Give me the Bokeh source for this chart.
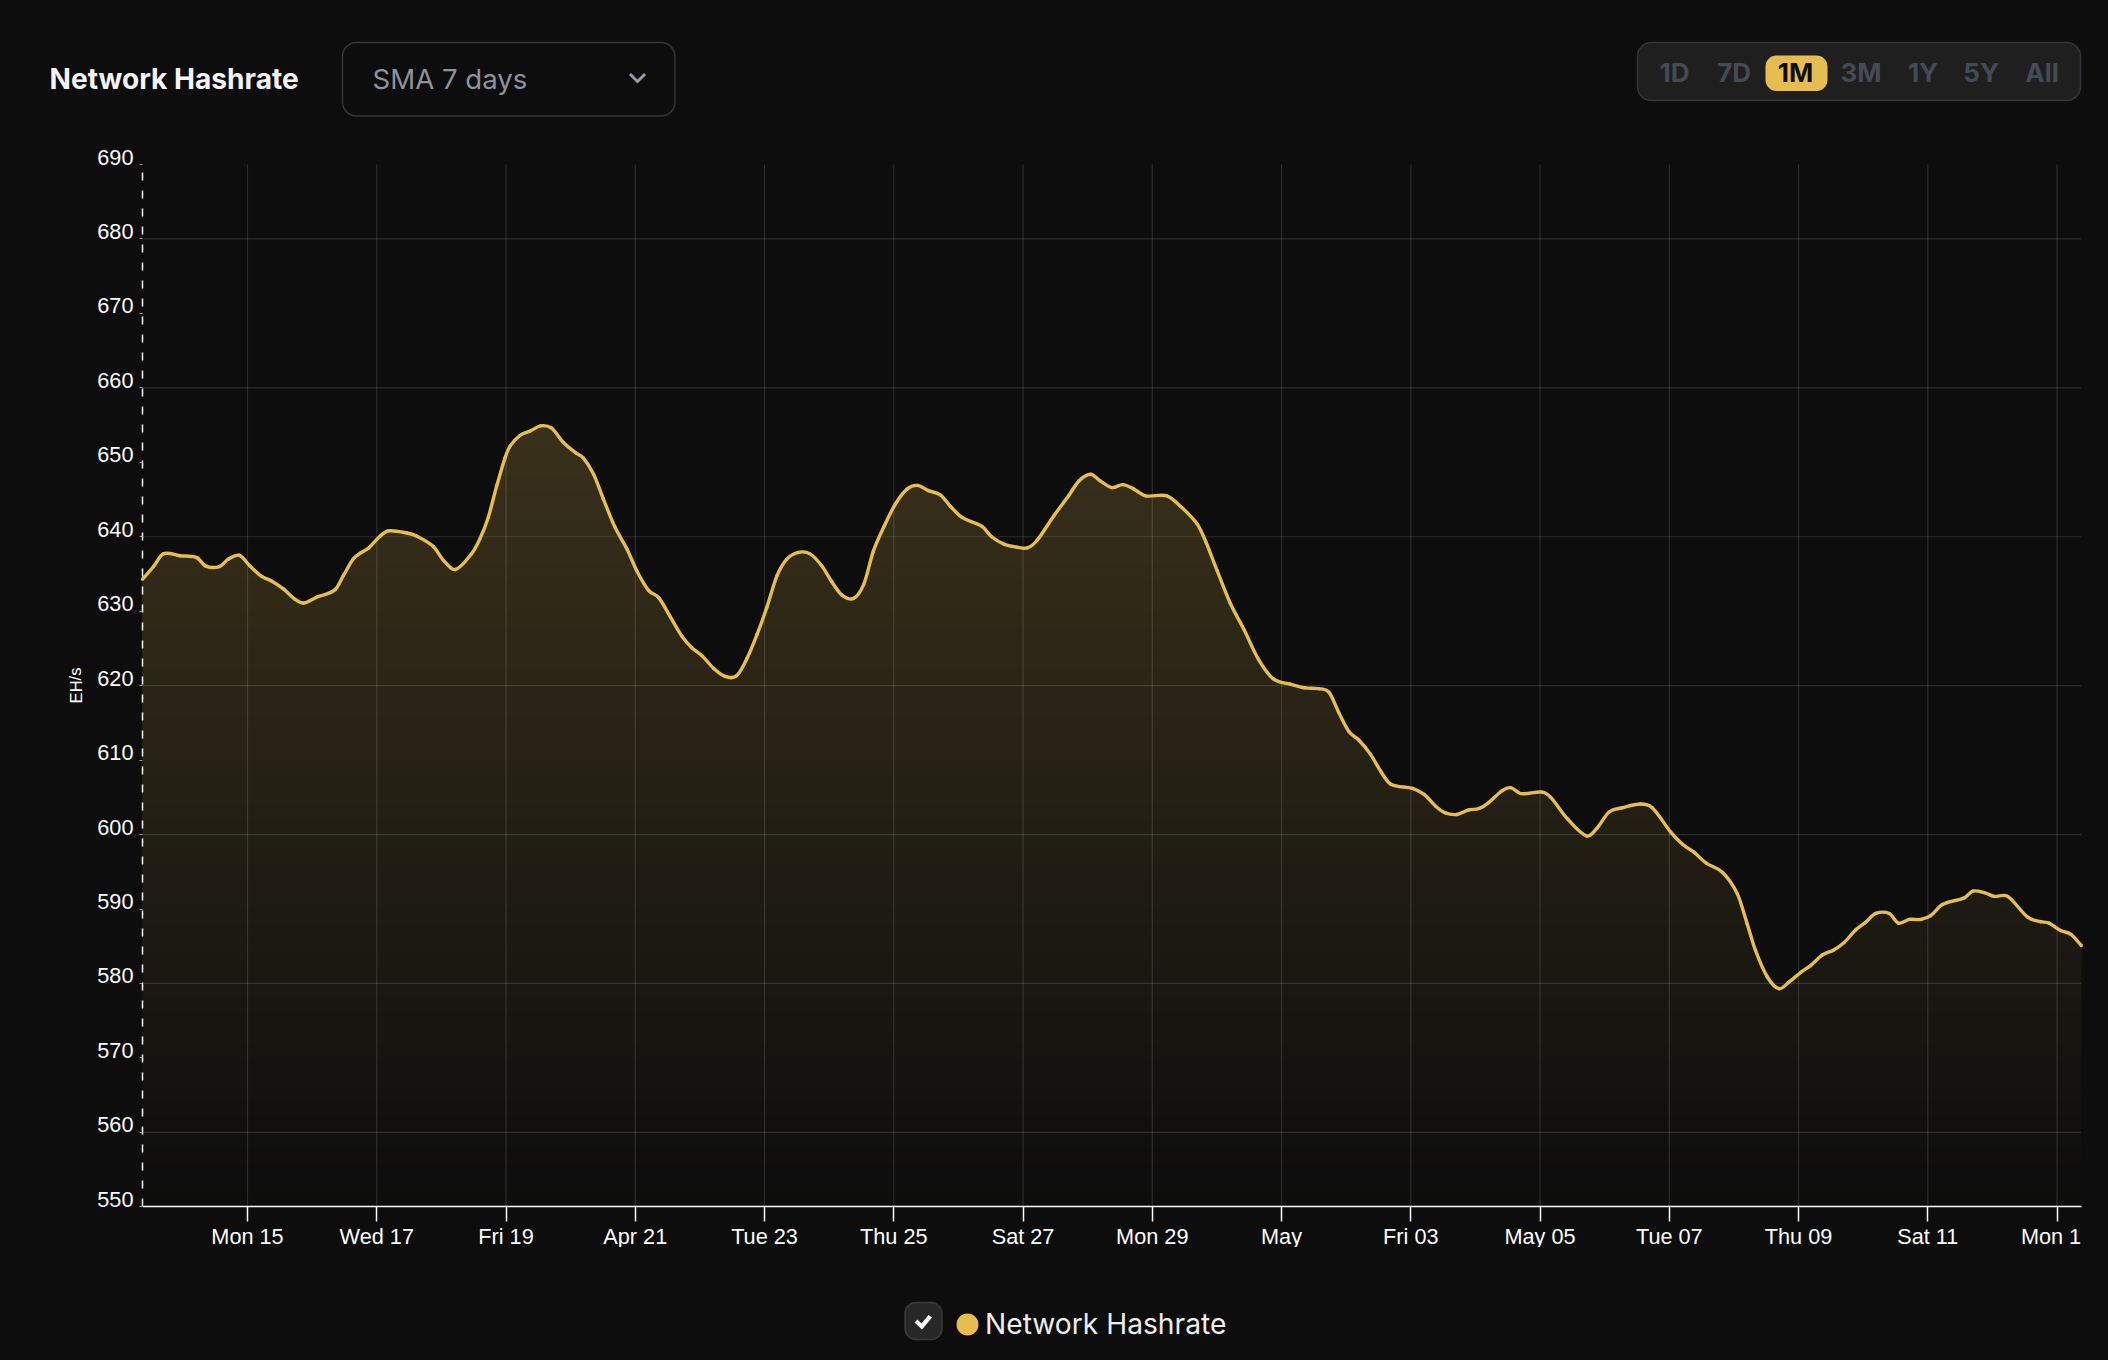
from datetime import datetime, timedelta
from bokeh.plotting import figure
from bokeh.embed import file_html
from bokeh.resources import INLINE
from bokeh.models import (BoxAnnotation, CustomLabelingPolicy, FixedTicker, Label, LinearAxis, PolyAnnotation, Range1d)

TITLE = "Network Hashrate"
SMOOTHING = "SMA 7 days"
UNIT = "EH/s"
RANGE_BUTTONS = ["1D", "7D", "1M", "3M", "1Y", "5Y", "All"]
ACTIVE_BUTTON = "1M"
Y_TICKS = [550, 560, 570, 580, 590, 600, 610, 620, 630, 640, 650, 660, 670, 680, 690]
Y_GRID = [560, 580, 600, 620, 640, 660, 680]
X_TICK_DATES = ["2024-04-15", "2024-04-17", "2024-04-19", "2024-04-21", "2024-04-23", "2024-04-25", "2024-04-27",
                "2024-04-29", "2024-05-01", "2024-05-03", "2024-05-05", "2024-05-07", "2024-05-09", "2024-05-11",
                "2024-05-13"]
X_TICK_LABELS = ["Mon 15", "Wed 17", "Fri 19", "Apr 21", "Tue 23", "Thu 25", "Sat 27", "Mon 29", "May", "Fri 03",
                 "May 05", "Tue 07", "Thu 09", "Sat 11", "Mon 1\u00a0\u00a0"]

# days since the start of the window (13 Apr 2024, 09:00) and EH/s
DAYS = [0.00, 0.17, 0.32, 0.58, 0.84, 0.98, 1.19, 1.33, 1.50, 1.66, 1.84, 1.99, 2.18, 2.36, 2.49, 2.70, 2.98, 3.11,
        3.26, 3.37, 3.50, 3.68, 3.81, 4.09, 4.24, 4.50, 4.66, 4.84, 5.09, 5.22, 5.35, 5.48, 5.61, 5.69, 5.84, 6.00,
        6.16, 6.33, 6.51, 6.70, 6.82, 6.98, 7.13, 7.31, 7.50, 7.65, 7.83, 7.99, 8.17, 8.35, 8.50, 8.66, 8.84, 9.00,
        9.19, 9.35, 9.51, 9.66, 9.82, 9.97, 10.15, 10.33, 10.51, 10.67, 10.82, 11.00, 11.16, 11.31, 11.47, 11.65,
        11.83, 11.99, 12.16, 12.35, 12.50, 12.68, 12.99, 13.14, 13.33, 13.53, 13.69, 13.84, 14.10, 14.33, 14.49,
        14.67, 14.82, 15.00, 15.17, 15.34, 15.52, 15.85, 16.06, 16.32, 16.45, 16.63, 16.83, 17.04, 17.27, 17.50,
        17.76, 17.99, 18.20, 18.36, 18.51, 18.67, 18.82, 19.00, 19.16, 19.31, 19.65, 19.83, 20.01, 20.16, 20.34,
        20.52, 20.68, 20.83, 21.04, 21.17, 21.33, 21.66, 21.79, 22.05, 22.35, 22.51, 22.69, 22.90, 23.18, 23.36,
        23.65, 23.83, 24.01, 24.19, 24.45, 24.68, 24.83, 24.96, 25.14, 25.32, 25.48, 25.66, 25.81, 25.99, 26.17,
        26.33, 26.51, 26.66, 26.82, 27.03, 27.17, 27.34, 27.52, 27.67, 27.85, 28.19, 28.32, 28.50, 28.65, 28.86,
        29.17, 29.37, 29.50, 29.68, 29.84, 30.00]
HASHRATE = [634.3, 636.0, 637.7, 637.45, 637.2, 636.06, 636.0, 637.0, 637.5, 636.1, 634.7, 634.1, 633.0, 631.6, 631.1,
            631.9, 632.9, 634.8, 637.0, 637.8, 638.5, 640.1, 640.8, 640.5, 640.1, 638.7, 636.8, 635.6, 637.7, 639.7,
            642.6, 646.8, 650.6, 652.2, 653.6, 654.2, 654.9, 654.6, 652.7, 651.3, 650.6, 648.4, 645.1, 641.3, 638.3,
            635.4, 632.8, 631.8, 629.2, 626.6, 625.1, 624.0, 622.3, 621.3, 621.3, 623.6, 626.9, 630.5, 634.8, 637.0,
            637.9, 637.7, 636.1, 633.9, 632.2, 631.7, 633.6, 638.1, 641.3, 644.4, 646.4, 646.9, 646.2, 645.6, 644.1,
            642.6, 641.4, 640.0, 639.0, 638.6, 638.5, 639.5, 642.8, 645.5, 647.5, 648.4, 647.5, 646.6, 647.0, 646.4,
            645.5, 645.5, 644.1, 641.7, 639.4, 635.4, 631.1, 627.6, 623.5, 620.9, 620.2, 619.7, 619.6, 619.1, 616.4,
            613.8, 612.7, 610.8, 608.5, 606.8, 606.2, 605.4, 603.8, 602.9, 602.7, 603.3, 603.5, 604.3, 605.9, 606.3,
            605.5, 605.7, 605.0, 602.1, 599.8, 600.9, 603.0, 603.6, 604.1, 603.6, 600.3, 598.7, 597.6, 596.2, 594.9,
            592.0, 588.0, 584.4, 580.9, 579.3, 580.2, 581.5, 582.4, 583.8, 584.5, 585.5, 587.2, 588.2, 589.4, 589.4,
            588.1, 588.6, 588.6, 589.1, 590.6, 591.5, 592.4, 592.2, 591.7, 591.7, 588.9, 588.3, 588.1, 587.1, 586.6,
            585.1]

BG = "#0d0d0d"
GOLD = "#E6BD50"
START = datetime(2024, 4, 13, 9)
CANVAS_W, CANVAS_H = 2104, 1356
PLOT_LEFT, PLOT_RIGHT, PLOT_BOTTOM = 142.0, 2080.8, 1206.3
PX_PER_UNIT = 7.445


def to_ms(dt):
    return (dt - datetime(1970, 1, 1)).total_seconds() * 1000.0


xs = [to_ms(START + timedelta(days=d)) for d in DAYS]
tick_ms = [to_ms(datetime.strptime(d, "%Y-%m-%d")) for d in X_TICK_DATES]
x_start, x_end = to_ms(START), to_ms(START + timedelta(days=30))

# the frame fills the whole canvas, so that header and legend are drawn in it too;
# the ranges run past the plot area so that the axes land where they belong
ms_per_px = (x_end - x_start) / (PLOT_RIGHT - PLOT_LEFT)
x_range = Range1d(x_start - PLOT_LEFT * ms_per_px, x_end + (CANVAS_W - PLOT_RIGHT) * ms_per_px)
y_low = 550 - (CANVAS_H - PLOT_BOTTOM) / PX_PER_UNIT
y_high = 550 + PLOT_BOTTOM / PX_PER_UNIT

p = figure(width=CANVAS_W, height=CANVAS_H, output_backend="svg", toolbar_location=None,
           x_axis_location=None, y_axis_location=None, x_range=x_range, y_range=Range1d(y_low, y_high),
           background_fill_color=BG, border_fill_color=BG, outline_line_color=None, min_border=0)
p.grid.visible = False

# vertical gradient under the curve: opaque layers painted bottom-up
top_value = max(HASHRATE)
alpha_top = 0.205
level = 550.0
n = len(xs)
while level < top_value:
    a = alpha_top * (level - 550) / (top_value - 550)
    color = "#%02x%02x%02x" % tuple(int(round(13 + a * (c - 13))) for c in (0xE6, 0xBD, 0x50))
    lx, ly = [], []
    for i in range(n):
        lx.append(xs[i])
        ly.append(max(HASHRATE[i], level))
        if i < n - 1 and (HASHRATE[i] - level) * (HASHRATE[i + 1] - level) < 0:
            t = (level - HASHRATE[i]) / (HASHRATE[i + 1] - HASHRATE[i])
            lx.append(xs[i] + t * (xs[i + 1] - xs[i]))
            ly.append(level)
    p.varea(lx, [level] * len(lx), ly, fill_color=color, fill_alpha=1)
    level += 2.0

# grid
p.segment(x0=tick_ms, x1=tick_ms, y0=[550] * len(tick_ms), y1=[690] * len(tick_ms),
          line_color="#ffffff", line_alpha=0.13, line_width=1.2)
p.segment(x0=[x_start] * len(Y_GRID), x1=[x_end] * len(Y_GRID), y0=Y_GRID, y1=Y_GRID,
          line_color="#ffffff", line_alpha=0.13, line_width=1.2)

# the curve: same points, drawn as a smooth spline through them like the original
slopes = [(HASHRATE[min(i + 1, n - 1)] - HASHRATE[max(i - 1, 0)]) / (xs[min(i + 1, n - 1)] - xs[max(i - 1, 0)])
          for i in range(n)]
steps = [xs[i + 1] - xs[i] for i in range(n - 1)]
p.bezier(x0=xs[:-1], y0=HASHRATE[:-1], x1=xs[1:], y1=HASHRATE[1:],
         cx0=[xs[i] + steps[i] / 3 for i in range(n - 1)],
         cy0=[HASHRATE[i] + slopes[i] * steps[i] / 3 for i in range(n - 1)],
         cx1=[xs[i + 1] - steps[i] / 3 for i in range(n - 1)],
         cy1=[HASHRATE[i + 1] - slopes[i + 1] * steps[i] / 3 for i in range(n - 1)],
         line_color=GOLD, line_width=3.4, line_cap="round")

# x axis
ax = LinearAxis(fixed_location=550, bounds=(x_start, x_end), ticker=FixedTicker(ticks=tick_ms),
                major_label_overrides=dict(zip(tick_ms, X_TICK_LABELS)),
                axis_line_color="#ffffff", axis_line_width=1.5,
                major_tick_line_color="#ffffff", major_tick_line_width=1.5, major_tick_in=0, major_tick_out=15,
                minor_tick_line_color=None, major_label_standoff=2, major_label_text_font="Liberation Sans",
                major_label_text_font_size="21.7px", major_label_text_color="#ffffff")
p.add_layout(ax, "below")

# y labels sit just above their grid lines: axis on a range shifted by one unit
label_offset = 7.5 / PX_PER_UNIT
p.extra_y_ranges = {"labels": Range1d(y_low - label_offset, y_high - label_offset)}
al = LinearAxis(fixed_location=x_start, y_range_name="labels", ticker=FixedTicker(ticks=Y_TICKS),
                axis_line_color=None, major_tick_line_color=None, minor_tick_line_color=None,
                major_tick_in=0, major_tick_out=0, major_label_standoff=9,
                major_label_text_font="Liberation Sans", major_label_text_font_size="21.7px",
                major_label_text_color="#ffffff")
p.add_layout(al, "left")

# y axis: dashed line and small ticks at the values, no labels of its own
ay = LinearAxis(fixed_location=x_start, bounds=(550, 690), ticker=FixedTicker(ticks=Y_TICKS),
                axis_line_color="#ffffff", axis_line_width=1.5, axis_line_dash=[8, 10],
                major_tick_line_color="#9a9a9a", major_tick_in=0, major_tick_out=3,
                minor_tick_line_color=None,
                major_label_policy=CustomLabelingPolicy(code="for (const i of indices) indices.unset(i); return indices"))
p.add_layout(ay, "left")


# --- page furniture, positions given in page pixels
def box(l, t, r, b, fill, line=None, radius=0, lw=1.5):
    p.add_layout(BoxAnnotation(left=l, right=r, top=t, bottom=b,
                               left_units="canvas", right_units="canvas", top_units="canvas", bottom_units="canvas",
                               fill_color=fill, fill_alpha=1, line_color=line, line_alpha=1 if line else 0,
                               line_width=lw, border_radius=radius))


def text(x, y, s, font="Inter", size=29, color="#ffffff", style="normal", align="left", angle=0.0):
    p.add_layout(Label(x=x, y=y, x_units="canvas", y_units="canvas", text=s, text_font=font,
                       text_font_size=f"{size}px", text_color=color, text_font_style=style, text_align=align,
                       text_baseline="middle", angle=angle))


def poly(points, fill):
    p.add_layout(PolyAnnotation(xs=[a for a, _ in points], ys=[b for _, b in points],
                                xs_units="canvas", ys_units="canvas", fill_color=fill, fill_alpha=1,
                                line_alpha=0))


# cover that clips the descenders of the x labels, as in the original
box(100, 1246.5, 2100, 1262, BG)

text(49, 78, TITLE, style="bold", size=28.1, color="#f4f4f5")
box(342, 42, 674.5, 115.5, BG, line="#34353a", radius=14)
text(372, 78, SMOOTHING, size=27.6, color="#8e929e")
poly([(628.5, 74.5), (630.5, 72.5), (637, 79), (643.5, 72.5), (645.5, 74.5), (637, 83)], "#9a9ea8")

box(1637, 42, 2080, 100, "#1f1f1f", line="#34353a", radius=14)
box(1765, 55, 1827, 90.5, GOLD, radius=11)
for label, cx in zip(RANGE_BUTTONS, [1674, 1733.7, 1795, 1860.5, 1922.5, 1980.6, 2041.5]):
    text(cx, 72, label, size=26, style="bold", align="center", color=BG if label == ACTIVE_BUTTON else "#454a57")

box(904.5, 1302, 941.5, 1339, "#272727", line="#3a3a3a", radius=11)
poly([(914, 1322), (917, 1319), (921, 1323), (928, 1314.5), (931.5, 1317), (921.5, 1329)], "#ffffff")
box(956, 1313, 978, 1335, GOLD, radius=11)
text(984.5, 1323, TITLE, size=28.2, color="#eeeeee")

text(75, 685, UNIT, font="Liberation Sans", size=16.5, align="center", angle=1.5708)

html = file_html(p, INLINE)
html = html.replace("<head>", "<head><style>html,body{background:#0d0d0d}</style>", 1)
open("out.html", "w").write(html)
